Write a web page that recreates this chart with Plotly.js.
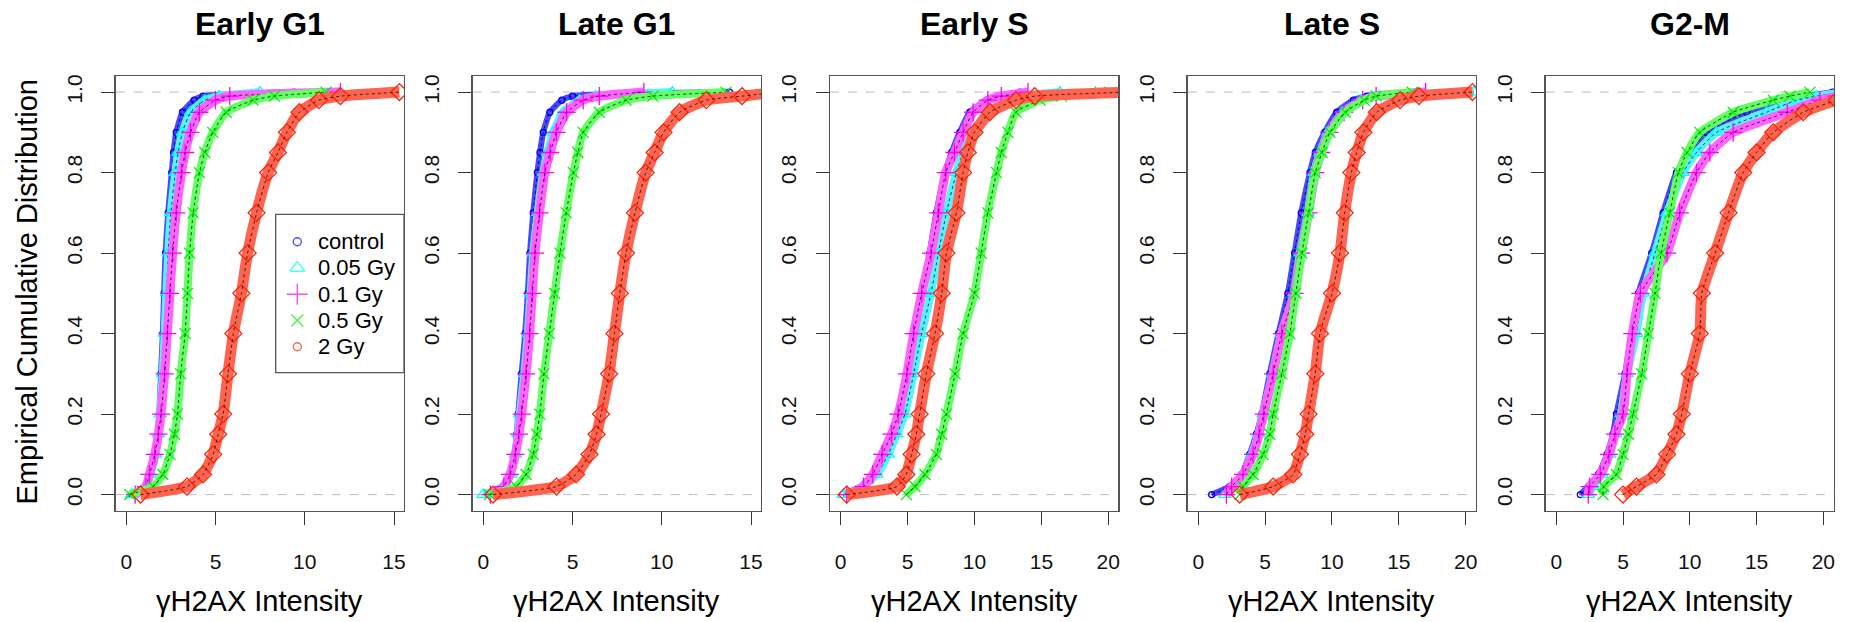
<!DOCTYPE html>
<html><head><meta charset="utf-8">
<script src="https://cdn.plot.ly/plotly-3.0.1.min.js"></script>
<style>html,body{margin:0;padding:0;background:#fff}#chart{width:1851px;height:622px}</style>
</head><body><div id="chart"></div>
<script>
// ---------------- data ----------------
const panelTitles = ["Early G1", "Late G1", "Early S", "Late S", "G2-M"];
const doseLabels = ["control", "0.05 Gy", "0.1 Gy", "0.5 Gy", "2 Gy"];
// cumulative-distribution levels at which the intensity was read
const cdfLevels = [0, 0.02, 0.05, 0.1, 0.15, 0.2, 0.3, 0.4, 0.5, 0.6, 0.7, 0.8, 0.85, 0.9, 0.95, 0.98, 0.99, 1.0];

// intensity (x) reached at each level, one row per dose: control, 0.05, 0.1, 0.5, 2 Gy
const xEarlyG1 = [
  [0.3, 1.1, 1.35, 1.6, 1.75, 1.85, 1.95, 2.05, 2.12, 2.2, 2.35, 2.55, 2.65, 2.8, 3.15, 3.8, 4.3, 9.4],
  [0.3, 1.05, 1.35, 1.65, 1.8, 1.9, 2.05, 2.15, 2.25, 2.35, 2.5, 2.75, 2.9, 3.15, 3.6, 4.4, 5.2, 7.5],
  [0.5, 1.1, 1.3, 1.6, 1.8, 1.95, 2.15, 2.3, 2.45, 2.6, 2.8, 3.1, 3.3, 3.6, 4.1, 5.0, 5.8, 12.0],
  [0.2, 1.5, 2.05, 2.45, 2.7, 2.87, 3.05, 3.3, 3.43, 3.55, 3.75, 4.1, 4.4, 4.85, 5.6, 7.1, 8.3, 11.2],
  [0.8, 3.4, 4.3, 4.87, 5.15, 5.43, 5.7, 6.0, 6.45, 6.8, 7.3, 7.95, 8.5, 9.0, 9.7, 10.8, 12.0, 15.3]
];
const xLateG1 = [
  [0.35, 1.1, 1.55, 1.75, 1.88, 1.96, 2.15, 2.35, 2.5, 2.62, 2.8, 3.03, 3.18, 3.36, 3.73, 4.4, 5.0, 13.8],
  [0.0, 1.1, 1.55, 1.8, 1.95, 2.05, 2.3, 2.5, 2.65, 2.8, 3.05, 3.36, 3.6, 3.92, 4.48, 5.4, 6.3, 10.6],
  [0.4, 1.15, 1.5, 1.8, 2.0, 2.15, 2.4, 2.6, 2.75, 2.9, 3.15, 3.45, 3.75, 4.1, 4.67, 5.6, 6.5, 9.0],
  [0.35, 1.85, 2.4, 2.8, 3.0, 3.17, 3.4, 3.7, 4.0, 4.3, 4.65, 5.05, 5.3, 5.6, 6.5, 8.0, 9.5, 13.6],
  [0.55, 4.1, 5.2, 5.95, 6.35, 6.6, 7.05, 7.35, 7.65, 8.0, 8.5, 9.1, 9.6, 10.1, 11.0, 12.5, 14.5, 16.5]
];
const xEarlyS = [
  [0.45, 1.7, 2.55, 3.3, 3.9, 4.4, 5.05, 5.55, 6.15, 6.65, 7.15, 7.8, 8.3, 8.9, 9.65, 10.9, 11.7, 13.4],
  [0.2, 1.6, 2.7, 3.55, 4.2, 4.8, 5.45, 6.05, 6.75, 7.3, 7.9, 8.65, 9.15, 9.9, 10.9, 12.3, 13.5, 16.4],
  [0.45, 1.7, 2.4, 3.1, 3.8, 4.3, 4.95, 5.45, 6.05, 6.75, 7.3, 7.85, 8.5, 9.15, 9.9, 11.0, 12.0, 14.0],
  [4.9, 5.55, 6.3, 7.15, 7.55, 7.9, 8.55, 9.15, 10.0, 10.5, 11.0, 11.65, 12.0, 12.5, 13.1, 14.9, 16.5, 19.4],
  [0.45, 4.2, 4.9, 5.3, 5.65, 5.9, 6.4, 7.05, 7.55, 7.9, 8.65, 9.15, 9.5, 10.0, 11.15, 13.1, 14.5, 21.5]
];
const xLateS = [
  [1.0, 2.35, 3.25, 3.85, 4.35, 4.75, 5.35, 6.0, 6.7, 7.2, 7.7, 8.35, 8.75, 9.45, 10.35, 11.6, 12.6, 16.3],
  [2.0, 2.6, 3.35, 4.0, 4.5, 4.85, 5.55, 6.2, 7.15, 7.6, 8.2, 8.65, 9.1, 9.7, 10.8, 12.2, 13.5, 20.6],
  [2.1, 2.5, 3.35, 4.1, 4.55, 4.9, 5.6, 6.25, 7.2, 7.7, 8.25, 8.75, 9.2, 9.8, 10.9, 12.3, 13.3, 17.0],
  [3.1, 3.35, 4.1, 4.85, 5.35, 5.6, 6.25, 6.85, 7.3, 7.75, 8.25, 8.75, 9.25, 9.85, 11.0, 12.4, 13.3, 16.0],
  [3.1, 5.6, 7.1, 7.6, 8.0, 8.25, 8.75, 9.1, 10.0, 10.6, 10.95, 11.45, 11.85, 12.35, 13.35, 15.1, 16.5, 20.5]
];
const xG2M = [
  [1.8, 2.4, 3.15, 3.8, 4.25, 4.5, 5.15, 5.65, 6.15, 7.15, 8.0, 9.0, 10.0, 11.25, 14.25, 17.0, 18.5, 20.7],
  [2.4, 2.75, 3.4, 4.0, 4.45, 4.85, 5.3, 6.0, 6.5, 7.4, 8.3, 9.5, 10.5, 12.0, 15.75, 18.0, 19.5, 21.5],
  [2.4, 2.5, 3.3, 3.95, 4.4, 5.0, 5.3, 5.7, 6.3, 8.3, 9.25, 10.5, 11.5, 13.25, 17.3, 19.75, 21.0, 22.0],
  [3.5, 3.55, 4.5, 5.0, 5.4, 5.75, 6.4, 6.9, 7.4, 7.85, 8.5, 9.15, 9.8, 10.75, 13.25, 16.25, 17.5, 19.0],
  [5.0, 6.0, 7.5, 8.3, 9.0, 9.4, 10.0, 10.75, 10.9, 11.9, 12.9, 14.0, 15.0, 16.25, 18.5, 21.0, 22.0, 23.0]
];

const xTicksG1 = [0, 5, 10, 15];
const xTicksS = [0, 5, 10, 15, 20];
const yTicks = [0, 0.2, 0.4, 0.6, 0.8, 1.0];
const yTickLabels = ["0.0", "0.2", "0.4", "0.6", "0.8", "1.0"];
const xTitle = "\u03B3H2AX Intensity";
const yTitle = "Empirical Cumulative Distribution";

// ---------------- styling / layout ----------------
const panelData = [xEarlyG1, xLateG1, xEarlyS, xLateS, xG2M];
const panelTicks = [xTicksG1, xTicksG1, xTicksS, xTicksS, xTicksS];
const xRanges = [[-0.59, 15.56], [-0.59, 15.56], [-0.8, 20.75], [-0.79, 20.77], [-0.79, 20.8]];
const W = 1851, H = 622;
const panelLeft = [115.7, 472.7, 830, 1187.7, 1545.7];
const panelW = 288.3;
const plotTop = 76, plotBottom = 510.7;
const FONT = "Liberation Sans, Arial, sans-serif";

const colors = ["#0000ff", "#00ffff", "#ff00ff", "#00ee00", "#ff2000"];
const bandColors = ["#4848ff", "#58f2ff", "#ff62ff", "#62ff62", "#ff6450"];
const symbols = ["circle-open", "triangle-up-open", "cross-thin-open", "x-thin-open", "diamond-open"];
const sizes = [6, 11, 13, 11, 13];
const bandWidths = [6, 8, 9, 8, 11];
const legendSymbols = ["circle-open", "triangle-up-open", "cross-thin-open", "x-thin-open", "circle-open"];
const legendSizes = [8, 13, 15, 12, 8];

const traces = [];
const layout = {
  width: W, height: H,
  margin: {l: 0, r: 0, t: 0, b: 0},
  paper_bgcolor: "#fff", plot_bgcolor: "#fff",
  showlegend: false,
  font: {family: FONT, color: "#000"},
  shapes: [], annotations: []
};

const yDom = [1 - plotBottom / H, 1 - plotTop / H];

panelData.forEach((rows, p) => {
  const n = p + 1;
  const xa = "x" + n, ya = "y" + n;
  const dom = [panelLeft[p] / W, (panelLeft[p] + panelW) / W];
  layout["xaxis" + n] = {
    domain: dom, range: xRanges[p], anchor: ya,
    tickmode: "array", tickvals: panelTicks[p],
    ticks: "outside", ticklen: 13, tickwidth: 1, tickcolor: "#333",
    showline: true, linecolor: "#555", linewidth: 1.3, mirror: true,
    showgrid: false, zeroline: false, fixedrange: true,
    tickfont: {size: 21, family: FONT, color: "#111"},
    ticklabelstandoff: 19
  };
  layout["yaxis" + n] = {
    domain: yDom, range: [-0.04, 1.04], anchor: xa,
    tickmode: "array", tickvals: yTicks, ticktext: yTickLabels, tickangle: -90,
    ticks: "outside", ticklen: 13, tickwidth: 1, tickcolor: "#333",
    showline: true, linecolor: "#555", linewidth: 1.3, mirror: true,
    showgrid: false, zeroline: false, fixedrange: true,
    tickfont: {size: 21, family: FONT, color: "#111"},
    ticklabelstandoff: 11
  };
  // reference lines at 0 and 1
  [0, 1].forEach(v => layout.shapes.push({
    type: "line", xref: xa + " domain", yref: ya, x0: 0, x1: 1, y0: v, y1: v,
    line: {color: "#bdbdbd", width: 1, dash: "dash"}, layer: "below"
  }));
  rows.forEach((xs, s) => {
    traces.push({
      x: xs, y: cdfLevels, xaxis: xa, yaxis: ya, type: "scatter", mode: "lines",
      line: {color: bandColors[s], width: bandWidths[s], shape: "spline", smoothing: 0.5},
      hoverinfo: "skip", showlegend: false
    });
    traces.push({
      x: xs, y: cdfLevels, xaxis: xa, yaxis: ya, type: "scatter", mode: "markers",
      name: doseLabels[s],
      marker: {symbol: symbols[s], size: sizes[s], color: colors[s], line: {color: colors[s], width: 1.3}},
      showlegend: false
    });
    traces.push({
      x: xs, y: cdfLevels, xaxis: xa, yaxis: ya, type: "scatter", mode: "lines",
      line: {color: "rgba(0,0,0,0.75)", width: 1, dash: "dot", shape: "spline", smoothing: 0.5},
      hoverinfo: "skip", showlegend: false
    });
  });
  // panel title
  layout.annotations.push({
    text: "<b>" + panelTitles[p] + "</b>", xref: "paper", yref: "paper",
    x: (panelLeft[p] + panelW / 2) / W, y: 1 - 24 / H, xanchor: "center", yanchor: "middle",
    showarrow: false, font: {size: 32, family: FONT, color: "#000"}
  });
  // x-axis title
  layout.annotations.push({
    text: xTitle, xref: "paper", yref: "paper",
    x: (panelLeft[p] + panelW / 2) / W, y: 1 - 601 / H, xanchor: "center", yanchor: "middle",
    showarrow: false, font: {size: 29, family: FONT, color: "#000"}
  });
});

// y-axis title
layout.annotations.push({
  text: yTitle, xref: "paper", yref: "paper", x: 26 / W, y: 1 - 292.5 / H,
  xanchor: "center", yanchor: "middle", textangle: -90, showarrow: false,
  font: {size: 29, family: FONT, color: "#000"}
});

// legend (inside first panel, top-right corner)
const legL = 275.7, legT = 214.3, legB = 372.7, legR = panelLeft[0] + panelW;
const rowTop = 241.7, rowBottom = 346.7, symX = 297.3, textX = 316;
layout.shapes.push({
  type: "rect", xref: "paper", yref: "paper",
  x0: legL / W, x1: legR / W, y0: 1 - legB / H, y1: 1 - legT / H,
  line: {color: "#555", width: 1.3}, fillcolor: "rgba(0,0,0,0)", layer: "above"
});
layout.xaxis6 = {domain: [(symX - 10) / W, (symX + 10) / W], range: [-1, 1], visible: false, fixedrange: true, anchor: "y6"};
layout.yaxis6 = {domain: [1 - rowBottom / H, 1 - rowTop / H], range: [doseLabels.length - 1, 0], visible: false, fixedrange: true, anchor: "x6"};
traces.push({
  x: doseLabels.map(() => 0), y: doseLabels.map((d, i) => i), xaxis: "x6", yaxis: "y6",
  type: "scatter", mode: "markers", hoverinfo: "skip", showlegend: false, cliponaxis: false,
  marker: {symbol: legendSymbols, size: legendSizes, color: colors, line: {color: colors, width: 1.4}}
});
doseLabels.forEach((d, i) => layout.annotations.push({
  text: d, xref: "paper", yref: "y6", x: textX / W, y: i, xanchor: "left", yanchor: "middle",
  showarrow: false, font: {size: 22, family: FONT, color: "#000"}
}));

Plotly.newPlot("chart", traces, layout, {staticPlot: true, displayModeBar: false});
</script>
</body></html>
